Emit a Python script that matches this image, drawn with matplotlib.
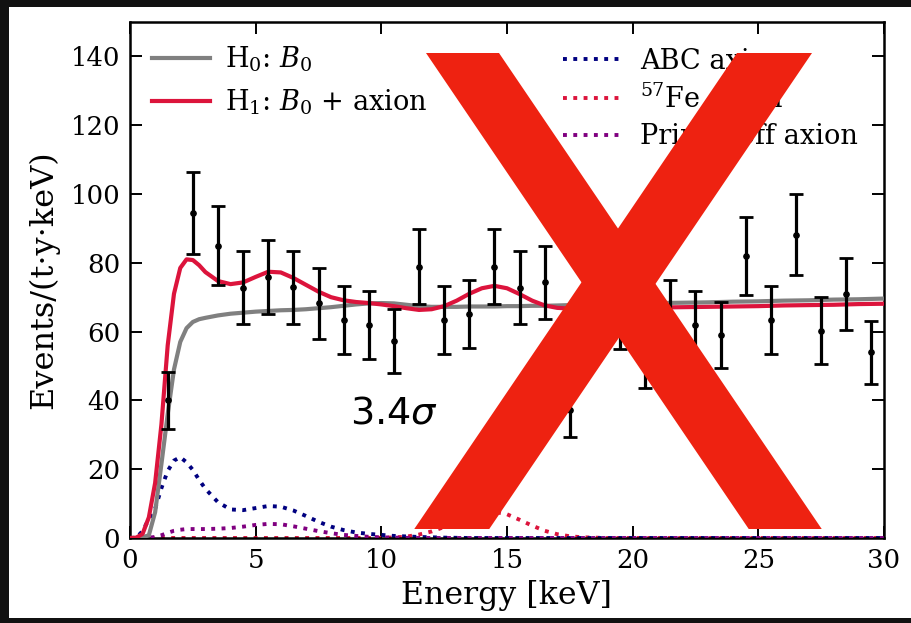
import matplotlib
matplotlib.use("Agg")
import matplotlib.pyplot as plt
from matplotlib.patches import Polygon, Rectangle

# ---------------- data ----------------
E_data = [1.5, 2.5, 3.5, 4.5, 5.5, 6.5, 7.5, 8.5, 9.5, 10.5, 11.5, 12.5, 13.5, 14.5,
          15.5, 16.5, 17.5, 18.5, 19.5, 20.5, 21.5, 22.5, 23.5, 24.5, 25.5, 26.5,
          27.5, 28.5, 29.5]
rate_data = [40.0, 94.5, 85.0, 72.8, 75.8, 72.9, 68.2, 63.5, 61.9, 57.3, 78.9, 63.5,
             65.0, 78.9, 72.8, 74.3, 37.3, 62.0, 65.0, 53.0, 65.0, 61.9, 58.9, 82.0,
             63.5, 88.2, 60.3, 71.0, 54.0]
rate_err = [8.2, 11.9, 11.5, 10.6, 10.8, 10.6, 10.3, 9.9, 9.8, 9.4, 11.0, 9.9, 9.9,
            11.0, 10.6, 10.7, 7.8, 9.9, 10.0, 9.5, 10.0, 9.8, 9.6, 11.3, 9.9, 11.7,
            9.7, 10.4, 9.2]

E_curve = [0, 0.25, 0.5, 0.75, 1.0, 1.25, 1.5, 1.75, 2.0, 2.25, 2.5, 2.75, 3.0,
           3.5, 4.0, 4.5, 5.0, 5.5, 6.0, 6.5, 7.0, 7.5, 8.0, 8.5, 9.0, 9.5, 10.0,
           10.5, 11.0, 11.5, 12.0, 12.5, 13.0, 13.5, 14.0, 14.5, 15.0, 15.5, 16.0,
           16.5, 17.0, 17.5, 18.0, 19, 20, 21, 22, 23, 24, 25, 26, 27, 28, 29, 30]
H0_curve = [0, 0, 0.2, 0.8, 7.5, 21.5, 36.0, 49.0, 57.0, 61.0, 62.8, 63.6, 64.0,
            64.7, 65.2, 65.5, 65.8, 66.0, 66.2, 66.3, 66.5, 66.8, 67.1, 67.5, 67.9,
            68.2, 68.3, 68.2, 67.8, 67.4, 67.2, 67.2, 67.2, 67.3, 67.3, 67.3, 67.4,
            67.4, 67.5, 67.5, 67.6, 67.7, 67.8, 67.9, 68.1, 68.3, 68.4, 68.5, 68.7,
            68.8, 69.0, 69.1, 69.3, 69.4, 69.6]
H1_curve = [0, 0.1, 1.2, 6.0, 16.0, 33.0, 56.0, 71.0, 78.5, 81.0, 80.8, 79.3, 77.3,
            74.7, 73.8, 74.3, 75.9, 77.4, 77.2, 75.6, 73.6, 71.6, 70.0, 69.1, 68.6,
            68.3, 67.9, 67.4, 66.8, 66.3, 66.5, 67.4, 69.0, 71.0, 72.6, 73.3, 72.6,
            70.9, 69.0, 67.6, 66.9, 66.7, 66.7, 66.8, 66.9, 67.0, 67.1, 67.2, 67.3,
            67.4, 67.6, 67.7, 67.8, 68.0, 68.1]
ABC_curve = [0, 0.1, 2.0, 5.5, 8.5, 14.5, 19.5, 22.5, 23.5, 22.0, 19.8, 16.9, 14.3,
             10.4, 8.3, 8.1, 8.7, 9.3, 9.1, 8.0, 6.4, 4.7, 3.3, 2.3, 1.6, 1.2, 0.9,
             0.6, 0.45, 0.3, 0.2, 0.1, 0.05, 0, 0, 0, 0, 0, 0, 0, 0, 0, 0, 0, 0, 0,
             0, 0, 0, 0, 0, 0, 0, 0, 0]
Fe_curve = [0, 0, 0, 0, 0, 0, 0, 0, 0, 0, 0, 0, 0, 0, 0, 0, 0, 0, 0, 0, 0, 0, 0, 0,
            0, 0, 0.05, 0.15, 0.4, 1.0, 1.9, 3.2, 4.7, 6.1, 7.2, 7.6, 6.9, 5.3, 3.6,
            2.1, 1.1, 0.5, 0.2, 0, 0, 0, 0, 0, 0, 0, 0, 0, 0, 0, 0]
Prim_curve = [0, 0, 0, 0.1, 0.3, 0.8, 1.5, 2.1, 2.4, 2.6, 2.6, 2.6, 2.6, 2.7, 2.9,
              3.3, 3.8, 4.1, 4.0, 3.4, 2.7, 2.0, 1.4, 0.9, 0.6, 0.35, 0.2, 0.1,
              0.05, 0, 0, 0, 0, 0, 0, 0, 0, 0, 0, 0, 0, 0, 0, 0, 0, 0, 0, 0, 0, 0,
              0, 0, 0, 0, 0]

x_ticks = [0, 5, 10, 15, 20, 25, 30]
y_ticks = [0, 20, 40, 60, 80, 100, 120, 140]

# ---------------- figure ----------------
plt.rcParams['font.family'] = ['DejaVu Serif']
plt.rcParams['mathtext.fontset'] = 'dejavuserif'

W, H = 911, 623
fig = plt.figure(figsize=(W / 100, H / 100), dpi=100)
fig.patch.set_facecolor('white')
ax = fig.add_axes([130 / W, 1 - 538 / H, (884 - 130) / W, (538 - 22) / H])

ax.plot(E_curve, H0_curve, color='#808080', lw=3, zorder=3, label=r'H$_0$: $B_0$')
ax.plot(E_curve, H1_curve, color='#dc143c', lw=3, zorder=3.1, label=r'H$_1$: $B_0$ + axion')
ax.plot(E_curve, ABC_curve, color='#000080', lw=2.8, ls=':', zorder=2.5, label='ABC axion')
ax.plot(E_curve, Fe_curve, color='#dc143c', lw=2.8, ls=':', zorder=2.4, label=r'$^{57}$Fe axion')
ax.plot(E_curve, Prim_curve, color='#800080', lw=2.8, ls=':', zorder=2.6, label='Primakoff axion')

ax.errorbar(E_data, rate_data, yerr=rate_err, fmt='o', color='black', ms=3.8,
            elinewidth=2.3, capsize=4.8, capthick=2.0, zorder=4)

ax.set_xlim(0, 30)
ax.set_ylim(0, 150)
ax.set_xticks(x_ticks)
ax.set_yticks(y_ticks)
ax.tick_params(direction='in', length=8.5, width=1.4, top=True, right=True,
               labelsize=18.7, pad=7)
for s in ax.spines.values():
    s.set_linewidth(1.8)
ax.set_xlabel('Energy [keV]', fontsize=22.8, labelpad=5)
ax.set_ylabel('Events/(t·y·keV)', fontsize=23, labelpad=8)

h = ax.get_lines()
leg1 = ax.legend(handles=h[:2], loc='upper left', frameon=False, fontsize=19.5,
                 handlelength=2.15, handletextpad=0.55, labelspacing=0.5,
                 borderaxespad=0.42, bbox_to_anchor=(0.0, 1.0))
ax.add_artist(leg1)
ax.legend(handles=h[2:5], loc='upper right', frameon=False, fontsize=19.5,
          handlelength=2.1, handletextpad=0.75, labelspacing=0.36,
          borderaxespad=0.55, bbox_to_anchor=(1.0, 1.0))

ax.text(10.5, 36.2, r'3.4$\sigma$', fontsize=27.5, ha='center', va='center',
        family='DejaVu Sans', math_fontfamily='dejavusans', zorder=5)

# ---------------- overlay: red X and dark frame ----------------
def px(x, y):
    return (x / W, 1 - y / H)

top, bot = 53, 529
s = 0.678
bandA = [px(426, top), px(499, top), px(499 + s * (bot - top), bot), px(426 + s * (bot - top), bot)]
bandB = [px(737, top), px(812, top), px(812 - s * (bot - top), bot), px(737 - s * (bot - top), bot)]
for poly in (bandA, bandB):
    fig.add_artist(Polygon(poly, closed=True, transform=fig.transFigure,
                           facecolor='#ee2211', edgecolor='none', zorder=20))

dark = '#111111'
fig.add_artist(Rectangle((0, 1 - 7 / H), 1, 7 / H, transform=fig.transFigure,
                         facecolor=dark, edgecolor='none', zorder=30))
fig.add_artist(Rectangle((0, 0), 9 / W, 1, transform=fig.transFigure,
                         facecolor=dark, edgecolor='none', zorder=30))
fig.add_artist(Rectangle((0, 0), 1, 5 / H, transform=fig.transFigure,
                         facecolor=dark, edgecolor='none', zorder=30))

fig.savefig('out.png', dpi=100)
